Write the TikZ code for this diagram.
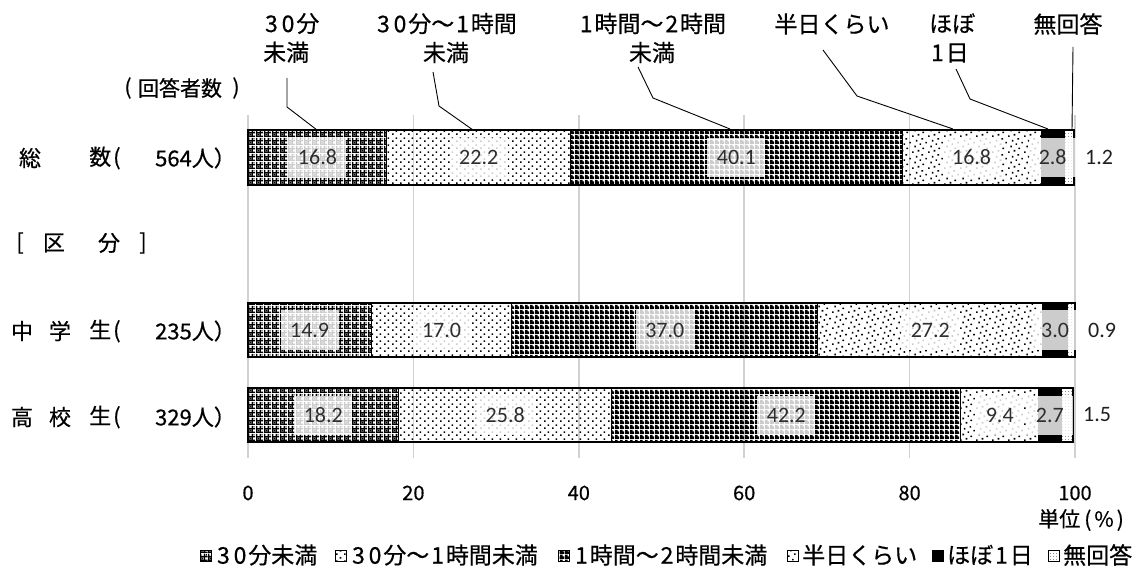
\documentclass[tikz,border=0pt]{standalone}
\usepackage{fontspec}
\setmainfont{Noto Sans CJK JP}[FakeBold=0.5]
\newfontfamily\calib{Carlito}
\usetikzlibrary{patterns}

\pgfdeclarepatternformonly{weaveA}{\pgfqpoint{0pt}{0pt}}{\pgfqpoint{8pt}{8pt}}{\pgfqpoint{8pt}{8pt}}{%
  \pgfpathrectangle{\pgfqpoint{0pt}{0pt}}{\pgfqpoint{8pt}{1.4pt}}%
  \pgfpathrectangle{\pgfqpoint{0pt}{4pt}}{\pgfqpoint{8pt}{1.4pt}}%
  \pgfpathrectangle{\pgfqpoint{0pt}{0pt}}{\pgfqpoint{1.4pt}{8pt}}%
  \pgfpathrectangle{\pgfqpoint{4pt}{0pt}}{\pgfqpoint{1.4pt}{8pt}}%
  \pgfpathrectangle{\pgfqpoint{2.1pt}{2.1pt}}{\pgfqpoint{1.3pt}{1.3pt}}%
  \pgfpathrectangle{\pgfqpoint{6.1pt}{6.1pt}}{\pgfqpoint{1.3pt}{1.3pt}}%
  \pgfusepath{fill}}
\pgfdeclarepatternformonly{dotsB}{\pgfqpoint{0pt}{0pt}}{\pgfqpoint{8pt}{7pt}}{\pgfqpoint{8pt}{7pt}}{%
  \pgfpathrectangle{\pgfqpoint{0pt}{0pt}}{\pgfqpoint{1.8pt}{1.8pt}}%
  \pgfpathrectangle{\pgfqpoint{4pt}{3.5pt}}{\pgfqpoint{1.8pt}{1.8pt}}%
  \pgfusepath{fill}}
\pgfdeclarepatternformonly{denseC}{\pgfqpoint{0pt}{0pt}}{\pgfqpoint{5pt}{5pt}}{\pgfqpoint{5pt}{5pt}}{%
  \pgfpathrectangle{\pgfqpoint{0pt}{0pt}}{\pgfqpoint{5pt}{3pt}}%
  \pgfpathrectangle{\pgfqpoint{0pt}{3pt}}{\pgfqpoint{3pt}{2pt}}%
  \pgfusepath{fill}}
\pgfdeclarepatternformonly{randD}{\pgfqpoint{0pt}{0pt}}{\pgfqpoint{16pt}{16pt}}{\pgfqpoint{16pt}{16pt}}{%
  \pgfpathrectangle{\pgfqpoint{0pt}{0pt}}{\pgfqpoint{1.7pt}{1.7pt}}%
  \pgfpathrectangle{\pgfqpoint{6pt}{1.5pt}}{\pgfqpoint{1.7pt}{1.7pt}}%
  \pgfpathrectangle{\pgfqpoint{11pt}{4pt}}{\pgfqpoint{1.7pt}{1.7pt}}%
  \pgfpathrectangle{\pgfqpoint{2.5pt}{6pt}}{\pgfqpoint{1.7pt}{1.7pt}}%
  \pgfpathrectangle{\pgfqpoint{8pt}{8.5pt}}{\pgfqpoint{1.7pt}{1.7pt}}%
  \pgfpathrectangle{\pgfqpoint{14pt}{10pt}}{\pgfqpoint{1.7pt}{1.7pt}}%
  \pgfpathrectangle{\pgfqpoint{4pt}{12pt}}{\pgfqpoint{1.7pt}{1.7pt}}%
  \pgfpathrectangle{\pgfqpoint{10pt}{14pt}}{\pgfqpoint{1.7pt}{1.7pt}}%
  \pgfusepath{fill}}
\pgfdeclarepatternformonly{lightF}{\pgfqpoint{0pt}{0pt}}{\pgfqpoint{3pt}{3pt}}{\pgfqpoint{3pt}{3pt}}{%
  \pgfpathrectangle{\pgfqpoint{0pt}{0pt}}{\pgfqpoint{0.9pt}{0.9pt}}%
  \pgfusepath{fill}}

\newcommand\dg[1]{\makebox[0.72em]{#1}}
\newcommand\barseg[5]{\fill[#5] (#3,#1) rectangle (#4,#2); \draw[segline] (#3,#1) rectangle (#4,#2);}

\begin{document}
\begin{tikzpicture}[x=1pt,y=-1pt,
  segline/.style={black, line width=1.1pt},
  barline/.style={black, line width=2pt},
  grid/.style={black!18, line width=1.5pt},
  toplab/.style={font=\fontsize{23}{29}\selectfont, inner sep=0pt},
  leftlab/.style={font=\fontsize{22}{22}\selectfont, inner sep=0pt},
  axlab/.style={font=\fontsize{20}{20}\selectfont, inner sep=0pt},
  leglab/.style={font=\fontsize{23}{23}\selectfont, inner sep=0pt, anchor=west},
  dl/.style={font=\calib\fontsize{22}{22}\selectfont, text=black!82, fill=white, fill opacity=0.8, text opacity=1, inner xsep=9.5pt, inner ysep=0pt, minimum height=39pt},
  ol/.style={font=\calib\fontsize{22}{22}\selectfont, text=black!88, inner sep=0pt, anchor=west},
  leader/.style={black, line width=0.9pt},
  legbox/.style={draw=black, line width=0.8pt}]
\useasboundingbox (0,0) rectangle (1138,569);
\fill[white] (0,0) rectangle (1138,569);

\begin{scope}[xshift=248pt, x=8.27pt]
% grid lines and axis labels
\foreach \g in {0,20,40,60,80,100} {
  \draw[grid] (\g,115) -- (\g,458);
  \node[axlab] (ax\g) at (\g,493) {\g};
}
% total bar
\barseg{130}{185}{0}{16.8}{pattern=weaveA}
\barseg{130}{185}{16.8}{39.0}{pattern=dotsB}
\barseg{130}{185}{39.0}{79.1}{pattern=denseC}
\barseg{130}{185}{79.1}{95.9}{pattern=randD}
\barseg{130}{185}{95.9}{98.7}{fill=black}
\barseg{130}{185}{98.7}{99.9}{pattern=lightF}
\draw[barline] (0,130) rectangle (99.9,185);
% middle school
\barseg{303}{357}{0}{14.9}{pattern=weaveA}
\barseg{303}{357}{14.9}{31.9}{pattern=dotsB}
\barseg{303}{357}{31.9}{68.9}{pattern=denseC}
\barseg{303}{357}{68.9}{96.1}{pattern=randD}
\barseg{303}{357}{96.1}{99.1}{fill=black}
\barseg{303}{357}{99.1}{100}{pattern=lightF}
\draw[barline] (0,303) rectangle (100,357);
% high school
\barseg{388}{442}{0}{18.2}{pattern=weaveA}
\barseg{388}{442}{18.2}{44.0}{pattern=dotsB}
\barseg{388}{442}{44.0}{86.2}{pattern=denseC}
\barseg{388}{442}{86.2}{95.6}{pattern=randD}
\barseg{388}{442}{95.6}{98.3}{fill=black}
\barseg{388}{442}{98.3}{99.8}{pattern=lightF}
\draw[barline] (0,388) rectangle (99.8,442);

% data labels
\node[dl] (a1) at (8.4,157.5) {16.8};
\node[dl] (a2) at (27.9,157.5) {22.2};
\node[dl] (a3) at (59.05,157.5) {40.1};
\node[dl] (a4) at (87.5,157.5) {16.8};
\node[dl] (a5) at (97.3,157.5) {2.8};
\node[dl] (b1) at (7.45,330) {14.9};
\node[dl] (b2) at (23.4,330) {17.0};
\node[dl] (b3) at (50.4,330) {37.0};
\node[dl] (b4) at (82.5,330) {27.2};
\node[dl] (b5) at (97.6,330) {3.0};
\node[dl] (c1) at (9.1,415) {18.2};
\node[dl] (c2) at (31.1,415) {25.8};
\node[dl] (c3) at (65.1,415) {42.2};
\node[dl] (c4) at (90.9,415) {9.4};
\node[dl] (c5) at (96.95,415) {2.7};
\end{scope}
\node[ol] (a6) at (1085,157.5) {1.2};
\node[ol] (b6) at (1088,330) {0.9};
\node[ol] (c6) at (1083,415) {1.5};

% top labels
\node[toplab, anchor=west, align=left] (t1) at (263,38) {\dg3\dg0分\\未満};
\node[toplab, align=center] (t2) at (446,38) {\dg3\dg0分～\dg1時間\\未満};
\node[toplab, align=center] (t3) at (652,38) {\dg1時間～\dg2時間\\未満};
\node[toplab] (t4) at (832,24) {半日くらい};
\node[toplab, anchor=west, align=left] (t5) at (929,38) {ほぼ\\\dg1日};
\node[toplab] (t6) at (1068,24) {無回答};

% leader lines
\coordinate (p1a) at (287,78); \coordinate (p1b) at (287,107); \coordinate (p1c) at (317,130);
\coordinate (p2a) at (433,72); \coordinate (p2b) at (439,106); \coordinate (p2c) at (473,130);
\coordinate (p3a) at (638,67); \coordinate (p3b) at (653,98); \coordinate (p3c) at (730,129);
\coordinate (p4a) at (823,50); \coordinate (p4b) at (857,96); \coordinate (p4c) at (953,129);
\coordinate (p5a) at (956,69); \coordinate (p5b) at (970,99); \coordinate (p5c) at (1048,129);
\coordinate (p6a) at (1073,47); \coordinate (p6c) at (1072,130);
\draw[leader] (p1a) -- (p1b) -- (p1c);
\draw[leader] (p2a) -- (p2b) -- (p2c);
\draw[leader] (p3a) -- (p3b) -- (p3c);
\draw[leader] (p4a) -- (p4b) -- (p4c);
\draw[leader] (p5a) -- (p5b) -- (p5c);
\draw[leader] (p6a) -- (p6c);

% left labels
\node[leftlab, font=\fontsize{21}{21}\selectfont] (h1) at (128,88) {(};
\node[leftlab, font=\fontsize{21}{21}\selectfont] (h2) at (180,88) {回答者数};
\node[leftlab, font=\fontsize{21}{21}\selectfont] (h3) at (236,88) {)};

\node[leftlab] (s1) at (30,158) {総};
\node[leftlab, anchor=west] (s2) at (89,158) {数\kern2pt(};
\node[leftlab, anchor=east] (s3) at (236,158) {564人）};

\node[leftlab] (k1) at (20,243) {[};
\node[leftlab] (k2) at (54,243) {区};
\node[leftlab] (k3) at (109,243) {分};
\node[leftlab] (k4) at (143,243) {]};

\node[leftlab] (m1) at (22,331) {中};
\node[leftlab] (m2) at (60,331) {学};
\node[leftlab, anchor=west] (m3) at (89,331) {生\kern2pt(};
\node[leftlab, anchor=east] (m4) at (236,331) {235人）};

\node[leftlab] (q1) at (22,417) {高};
\node[leftlab] (q2) at (60,417) {校};
\node[leftlab, anchor=west] (q3) at (89,417) {生\kern2pt(};
\node[leftlab, anchor=east] (q4) at (236,417) {329人）};

% unit
\node[axlab, anchor=east, font=\fontsize{21}{21}\selectfont] (unit) at (1124,520) {単位\hspace{4pt}(\hspace{3pt}\%\hspace{3pt})};

% legend
\fill[pattern=weaveA] (200,550) rectangle (211,561); \draw[legbox] (200,550) rectangle (211,561);
\node[leglab] (g1) at (215,555) {\dg3\dg0分未満};
\fill[pattern=dotsB] (335,550) rectangle (346,561); \draw[legbox] (335,550) rectangle (346,561);
\node[leglab] (g2) at (350,555) {\dg3\dg0分～\dg1時間未満};
\fill[pattern=denseC] (558,550) rectangle (569,561); \draw[legbox] (558,550) rectangle (569,561);
\node[leglab] (g3) at (573,555) {\dg1時間～\dg2時間未満};
\fill[pattern=randD] (787,550) rectangle (798,561); \draw[legbox] (787,550) rectangle (798,561);
\node[leglab] (g4) at (802,555) {半日くらい};
\fill[black] (932,550) rectangle (943,561); \draw[legbox] (932,550) rectangle (943,561);
\node[leglab] (g5) at (947,555) {ほぼ\dg1日};
\fill[pattern=lightF] (1048,550) rectangle (1059,561); \draw[legbox] (1048,550) rectangle (1059,561);
\node[leglab] (g6) at (1063,555) {無回答};
\end{tikzpicture}
\end{document}
